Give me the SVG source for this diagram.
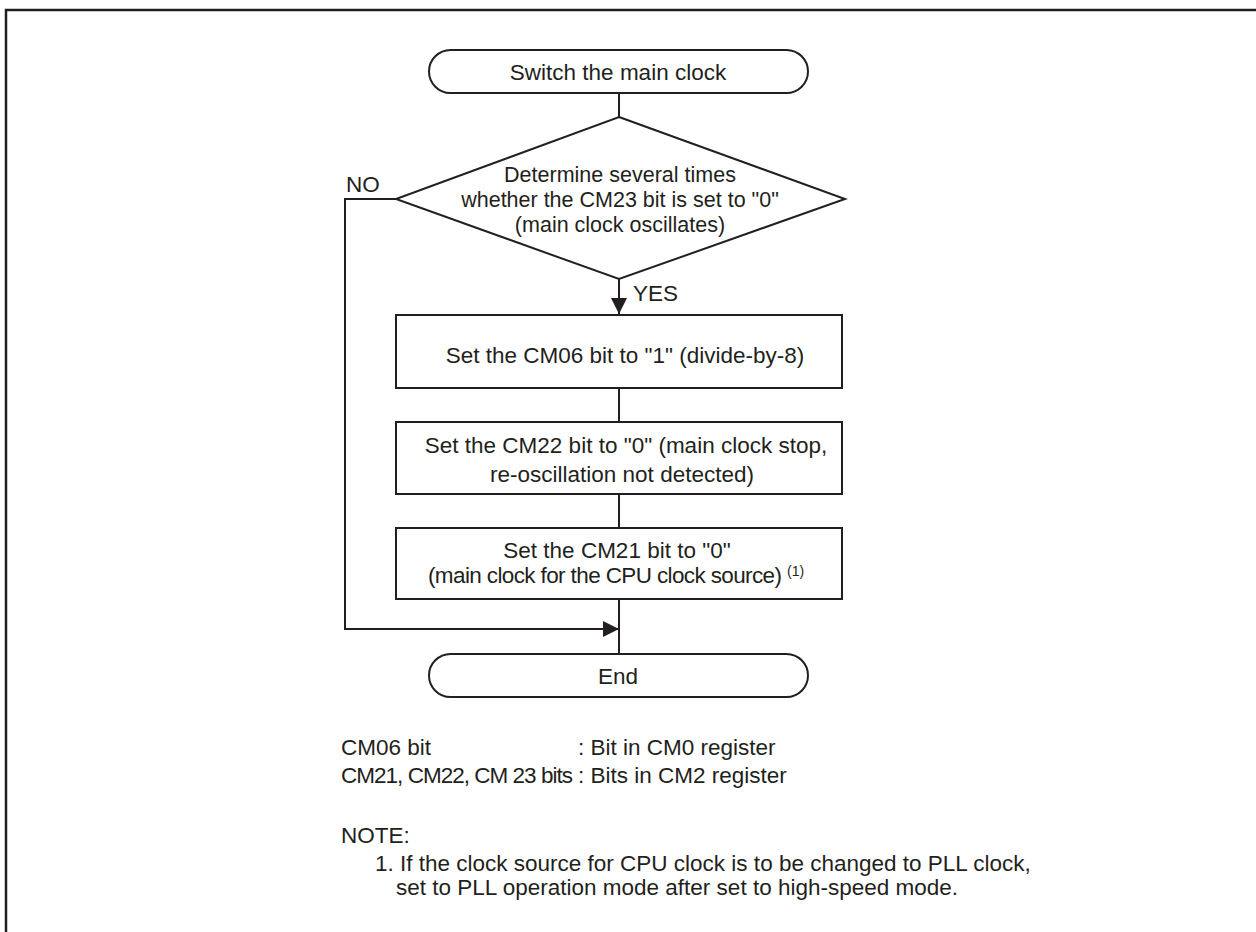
<svg xmlns="http://www.w3.org/2000/svg" width="1256" height="932" viewBox="0 0 1256 932">
<style>
text{font-family:"Liberation Sans",Arial,sans-serif;font-size:22.5px;fill:#231f20}
.c{text-anchor:middle}
.d{font-size:21.5px}
.s{fill:#fff;stroke:#231f20;stroke-width:2}
.l{fill:none;stroke:#231f20;stroke-width:2}
.sup{font-size:14px}
</style>
<defs>
<marker id="ah" markerWidth="16" markerHeight="16" viewBox="0 0 16 16" refX="16" refY="8" orient="auto" markerUnits="userSpaceOnUse">
<path d="M0,0 L16,8 L0,16 Z" fill="#231f20"/>
</marker>
</defs>
<rect width="1256" height="932" fill="#fff"/>
<path d="M6,932 V10 H1256" fill="none" stroke="#231f20" stroke-width="2.5"/>
<g id="connectors">
<line class="l" x1="619" y1="93" x2="619" y2="117"/>
<line class="l" x1="619" y1="279" x2="619" y2="314" marker-end="url(#ah)"/>
<line class="l" x1="619" y1="388" x2="619" y2="422"/>
<line class="l" x1="619" y1="494" x2="619" y2="528"/>
<line class="l" x1="619" y1="599" x2="619" y2="654"/>
<polyline class="l" points="396,199 345,199 345,629 619,629" marker-end="url(#ah)"/>
<text x="346" y="192">NO</text>
<text x="633" y="301">YES</text>
</g>
<g id="start">
<rect class="s" x="429" y="50" width="379" height="43" rx="21.5"/>
<text class="c" x="618" y="80">Switch the main clock</text>
</g>
<g id="decision">
<polygon class="s" points="619,117 845,199 619,279 396,199"/>
<text class="c d" x="620" y="182">Determine several times</text>
<text class="c d" x="620" y="207">whether the CM23 bit is set to "0"</text>
<text class="c d" x="620" y="232">(main clock oscillates)</text>
</g>
<g id="box1">
<rect class="s" x="396" y="315" width="446" height="73"/>
<text class="c" x="625" y="363">Set the CM06 bit to "1" (divide-by-8)</text>
</g>
<g id="box2">
<rect class="s" x="396" y="422" width="446" height="72"/>
<text class="c" x="626" y="453">Set the CM22 bit to "0" (main clock stop,</text>
<text class="c" x="622" y="482">re-oscillation not detected)</text>
</g>
<g id="box3">
<rect class="s" x="396" y="528" width="446" height="71"/>
<text class="c" x="617" y="558">Set the CM21 bit to "0"</text>
<text x="428" y="583" textLength="354">(main clock for the CPU clock source)</text>
<text class="sup" x="787" y="576">(1)</text>
</g>
<g id="end">
<rect class="s" x="429" y="654" width="379" height="43" rx="21.5"/>
<text class="c" x="618" y="684">End</text>
</g>
<g id="notes">
<text x="341" y="755">CM06 bit</text>
<text x="578" y="755">: Bit in CM0 register</text>
<text x="341" y="783" textLength="232">CM21, CM22, CM 23 bits</text>
<text x="578" y="783">: Bits in CM2 register</text>
<text x="341" y="843">NOTE:</text>
<text x="375" y="871">1. If the clock source for CPU clock is to be changed to PLL clock,</text>
<text x="396" y="895">set to PLL operation mode after set to high-speed mode.</text>
</g>
</svg>
